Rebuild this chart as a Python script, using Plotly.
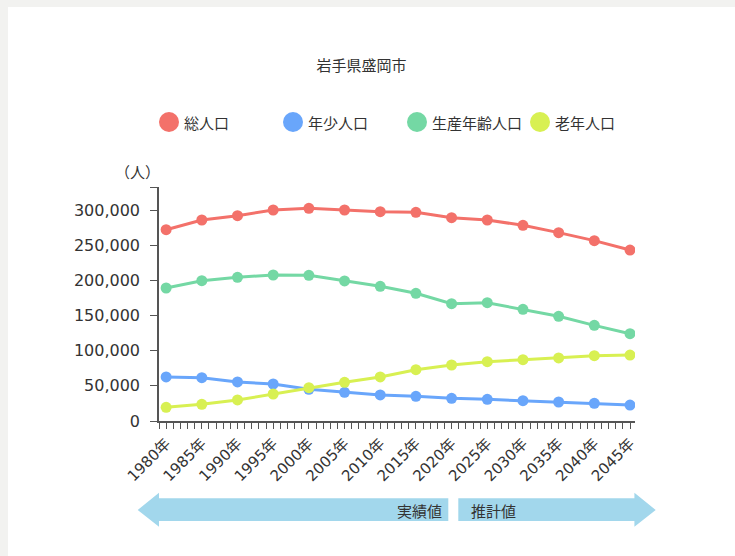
import plotly.graph_objects as go

# ---- data ----
years = [1980, 1985, 1990, 1995, 2000, 2005, 2010, 2015, 2020, 2025, 2030, 2035, 2040, 2045]
year_labels = [f"{y}年" for y in years]
total = [272000, 285800, 291900, 300000, 302400, 300000, 297600, 296700, 289100, 285800, 278200, 267800, 256400, 243100]
young = [62600, 61600, 55500, 52600, 45000, 40800, 37000, 35100, 32200, 30800, 28900, 27000, 25100, 22700]
working = [189100, 199500, 204300, 207600, 207100, 199100, 191500, 181600, 166800, 168200, 158800, 148800, 136000, 124100]
elderly = [19400, 23700, 29900, 38400, 47400, 55000, 62600, 73000, 79600, 84300, 87200, 89600, 92900, 93800]
series_names = ["総人口", "年少人口", "生産年齢人口", "老年人口"]
series_colors = ["#f3716a", "#69a6fb", "#74d8a4", "#d8f052"]
y_ticks = [0, 50000, 100000, 150000, 200000, 250000, 300000]
y_tick_labels = [f"{v:,}" for v in y_ticks]

W, H = 735, 556
ML, MT = 159, 187
MR = W - 635
MB = H - 421
PW, PH = W - ML - MR, H - MT - MB

def px(x):
    return (x - ML) / PW

def py(y):
    return (H - MB - y) / PH

CJK = "Noto Sans CJK JP"
NUM = "DejaVu Sans, Noto Sans CJK JP"
TXT = "#333333"

fig = go.Figure()
for name, vals, col in zip(series_names, [total, young, working, elderly], series_colors):
    fig.add_trace(go.Scatter(
        x=years, y=vals, name=name, mode="lines+markers",
        line=dict(color=col, width=3),
        marker=dict(color=col, size=11),
        showlegend=False,
    ))

shapes = []
annotations = []

# white panel on the grey page background
shapes.append(dict(type="rect", xref="paper", yref="paper", layer="below",
                   x0=px(8), x1=px(W + 5), y0=py(7), y1=py(H + 5),
                   fillcolor="white", line=dict(width=0)))

# manual legend
legend_cx = [169, 293, 417, 540]
for cx, name, col in zip(legend_cx, series_names, series_colors):
    shapes.append(dict(type="circle", xref="paper", yref="paper",
                       xsizemode="pixel", ysizemode="pixel",
                       xanchor=px(cx), yanchor=py(122),
                       x0=-10, x1=10, y0=-10, y1=10,
                       fillcolor=col, line=dict(width=0)))
    annotations.append(dict(xref="paper", yref="paper", x=px(cx + 13), y=py(122),
                            xanchor="left", yanchor="middle", showarrow=False,
                            text=name, font=dict(family=CJK, size=15, color=TXT)))

# arrows
def path(points):
    return "M " + " L ".join(f"{px(a)},{py(b)}" for a, b in points) + " Z"

arrow_col = "#a2d7ec"
left_arrow = [(137.7, 510), (159, 492.7), (159, 498.3), (448.3, 498.3), (448.3, 521), (159, 521), (159, 526.7)]
right_arrow = [(458.3, 498.3), (634.4, 498.3), (634.4, 492.7), (655.7, 510), (634.4, 526.7), (634.4, 521), (458.3, 521)]
for pts in (left_arrow, right_arrow):
    shapes.append(dict(type="path", xref="paper", yref="paper", path=path(pts),
                       fillcolor=arrow_col, line=dict(width=0)))

annotations.append(dict(xref="paper", yref="paper", x=px(444), y=py(510),
                        xanchor="right", yanchor="middle", showarrow=False,
                        text="実績値", font=dict(family=CJK, size=15, color=TXT)))
annotations.append(dict(xref="paper", yref="paper", x=px(469), y=py(510),
                        xanchor="left", yanchor="middle", showarrow=False,
                        text="推計値", font=dict(family=CJK, size=15, color=TXT)))
annotations.append(dict(xref="paper", yref="paper", x=px(137.5), y=py(171),
                        xanchor="center", yanchor="middle", showarrow=False,
                        text="（人）", font=dict(family=CJK, size=15, color=TXT)))

fig.update_layout(
    width=W, height=H,
    margin=dict(l=ML, r=MR, t=MT, b=MB),
    paper_bgcolor="#f2f2f0",
    plot_bgcolor="white",
    title=dict(text="岩手県盛岡市", x=361.5 / W, xanchor="center",
               y=1 - 66 / H, yanchor="middle",
               font=dict(family=CJK, size=15, color=TXT)),
    shapes=shapes,
    annotations=annotations,
    showlegend=False,
)
fig.update_xaxes(
    range=[1979, 2045.7], tickvals=years, ticktext=year_labels, tickangle=-45,
    ticks="outside", ticklen=6, tickcolor="#555555", tickwidth=1,
    minor=dict(dtick=1, tick0=1979, ticks="outside", ticklen=6, tickcolor="#555555", tickwidth=1),
    showline=True, linecolor="#555555", linewidth=1.5,
    showgrid=False, zeroline=False,
    tickfont=dict(family=NUM, size=15, color=TXT),
)
fig.update_yaxes(
    range=[0, 332700], tickvals=y_ticks + [332700], ticktext=y_tick_labels + [""],
    ticks="outside", ticklen=7, tickcolor="#555555", tickwidth=1,
    ticklabelstandoff=7,
    showline=True, linecolor="#555555", linewidth=1.5,
    showgrid=False, zeroline=False,
    tickfont=dict(family=NUM, size=16, color=TXT),
)

fig.write_html("out.html",
               config={"displayModeBar": False},
               post_script="document.body.style.margin='0';")
